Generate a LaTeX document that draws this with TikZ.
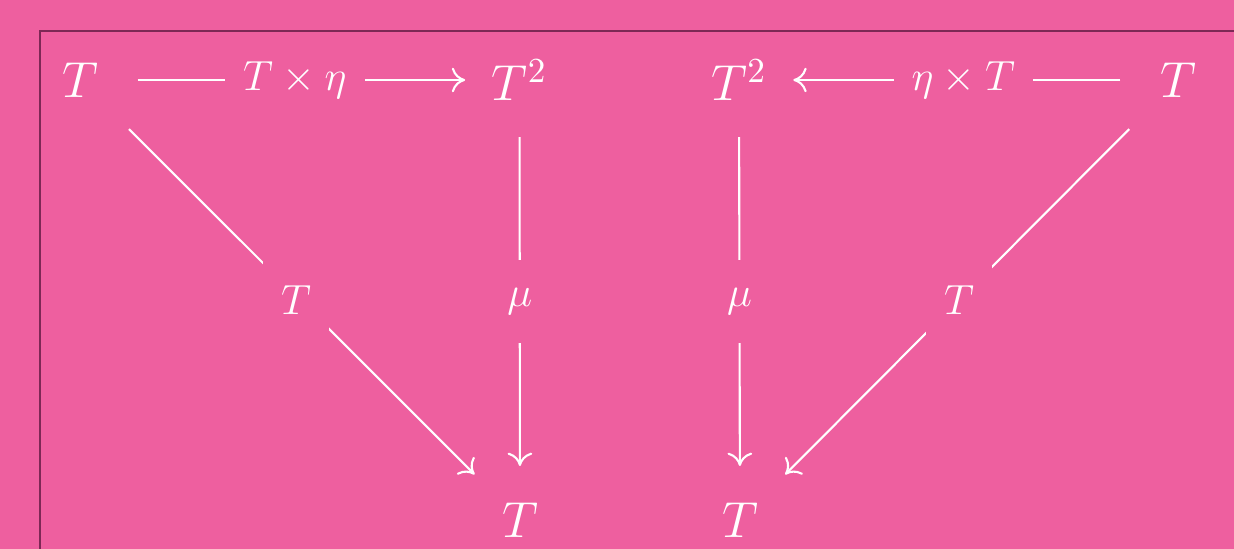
\documentclass[tikz,border=0pt]{standalone}
\usepackage{amsmath}
\usepackage{xcolor}
\definecolor{cdpink}{RGB}{238,95,159}
\definecolor{cdframe}{RGB}{125,40,85}
\usepackage{tikz}
\usetikzlibrary{arrows.meta, positioning}

\tikzset{
  obj/.style={text=white, inner sep=0.36cm, font=\Large},
  lbl/.style={text=white, fill=cdpink, inner xsep=0.18cm, inner ysep=0pt,
    minimum height=0.83cm, font=\large},
  arr/.style={white, line width=0.6pt,
    -{Computer Modern Rightarrow[length=3.8pt, width=7pt]}},
  harr/.style={arr, shorten <=0.03cm, shorten >=-0.1cm},
  darr/.style={arr, shorten <=-0.07cm, shorten >=-0.12cm}
}

\begin{document}
\begin{tikzpicture}
  % Background and frame
  \fill[cdpink] (0,0) rectangle (12.34,5.49);
  \useasboundingbox (0,0) rectangle (12.34,5.49);
  \draw[cdframe, line width=0.35pt] (12.34,5.18) -- (0.40,5.18) -- (0.40,0);

  % Objects
  \node[obj] (tl)  at (0.80,4.69)  {$T$};
  \node[obj] (tlsq) at (5.195,4.69) {$T^2$};
  \node[obj] (trsq) at (7.39,4.69) {$T^2$};
  \node[obj] (tr)  at (11.78,4.69) {$T$};
  \node[obj] (bl)  at (5.20,0.29)  {$T$};
  \node[obj] (br)  at (7.40,0.29)  {$T$};

  % Left triangle
  \draw[harr] (tl) -- node[lbl] {$T\times\eta$} (tlsq);
  \draw[darr] (tl) -- node[lbl, xshift=-0.04cm] {$T$} (bl);
  \draw[arr] (tlsq) -- node[lbl] {$\mu$} (bl);

  % Right triangle
  \draw[harr] (tr) -- node[lbl] {$\eta\times T$} (trsq);
  \draw[darr] (tr) -- node[lbl] {$T$} (br);
  \draw[arr] (trsq) -- node[lbl] {$\mu$} (br);
\end{tikzpicture}
\end{document}
